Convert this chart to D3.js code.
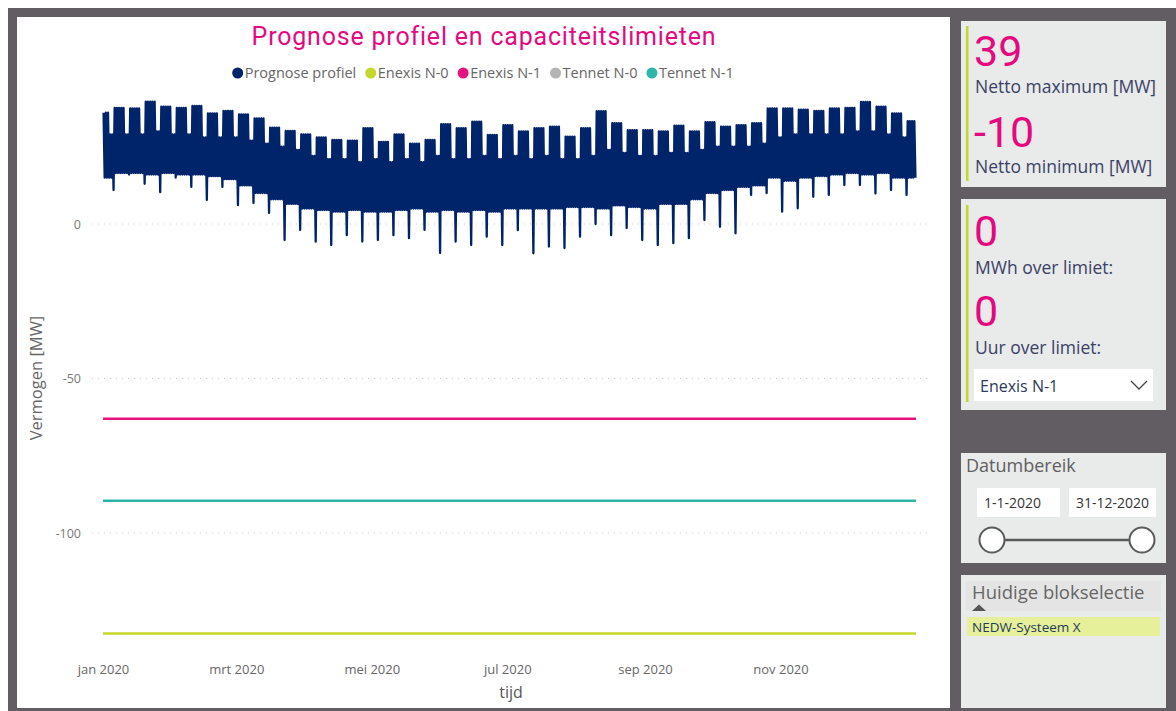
<!DOCTYPE html>
<html lang="nl">
<head>
<meta charset="utf-8">
<title>Prognose profiel en capaciteitslimieten</title>
<script src="https://cdn.jsdelivr.net/npm/d3@7"></script>
<style>
  html, body { margin: 0; padding: 0; background: #fff; }
  svg { display: block; }
  text { font-family: "Open Sans", "Noto Sans", sans-serif; }
</style>
</head>
<body>
<div id="dashboard"></div>
<script>
// Prognose profiel, read per week off the picture (weeks start on monday 30-12-2019)
// weekday peak, weekday floor, weekend peak, lowest weekend dip  [MW]
const weekdayTop = [36, 37.6, 37.4, 39.6, 38, 37.6, 38.2, 35.8, 36.6, 35.5, 34.2, 31.2, 30.1,
  29, 28, 27.2, 27, 31, 26.6, 29, 26, 27.2, 32.3, 31, 33.1, 28.8, 32, 30, 31, 31.5, 28.3, 31,
  36.5, 32.6, 30.4, 30.4, 30, 31.8, 30, 33, 31.5, 32, 32.6, 37.4, 37.4, 37, 36.6, 37.4, 37.6,
  39.5, 38, 35.8, 33.3];
const weekdayFloor = [15, 16.5, 16.5, 16, 16.5, 16, 16, 15.5, 14.5, 12.5, 10, 8, 6.5,
  5, 4.5, 4, 4.5, 4, 4, 4.5, 5, 4, 4.5, 4, 4.5, 4, 5, 5, 5, 5, 5.5, 5.5,
  5, 6, 5.5, 5, 6.5, 6.5, 8, 10, 11, 12, 12.5, 15, 14, 15, 15.5, 16, 16.5,
  16, 16.5, 15, 15];
const weekendTop = [29, 29, 29, 30, 29, 29, 28, 28, 28, 27, 26, 25, 24,
  22, 21, 21, 20, 21, 20, 21, 20, 22, 21, 21, 22, 21, 22, 21, 22, 21, 21, 22,
  24, 23, 22, 22, 23, 23, 24, 25, 25, 25, 26, 28, 29, 29, 29, 29, 30,
  30, 29, 28, 28];
const weekendMin = [11, 16, 13, 10.3, 15, 12, 7.8, 12, 6.1, 6.8, 3.6, -5.2, -1.9,
  -5.7, -6.8, -3.6, -5.7, -5.2, -3.6, -4.6, -1.9, -9.4, -5.7, -6.8, -4.1, -6.8, -2, -9.5, -7.3, -7.8, -4.1, 0,
  -3.6, -1.3, -5.2, -6.8, -6.2, -4.6, 1.3, -0.9, -3, 9.4, 10, 4, 5.1, 8.8, 9.4, 12.6, 12.6,
  9.9, 11, 9.4, 14];

// capacity limits [MW]
const limitNames = ["Enexis N-0", "Enexis N-1", "Tennet N-0", "Tennet N-1"];
const limitValues = [-132.5, -63, null, -89.6];

const legendLabels = ["Prognose profiel", "Enexis N-0", "Enexis N-1", "Tennet N-0", "Tennet N-1"];
const legendColours = ["#002469", "#c3d82a", "#e6137e", "#b3b3b3", "#2cb5a8"];
const yTicks = [0, -50, -100];
const xTickLabels = ["jan 2020", "mrt 2020", "mei 2020", "jul 2020", "sep 2020", "nov 2020"];

const cardValues = ["39", "-10", "0", "0"];
const cardLabels = ["Netto maximum [MW]", "Netto minimum [MW]", "MWh over limiet:", "Uur over limiet:"];
const dateRange = ["1-1-2020", "31-12-2020"];
const selectedLimit = "Enexis N-1";
const blockSelection = ["NEDW-Systeem X"];

(function () {
  const W = 1176;
  const H = 711;
  const PINK = "#e5097f";
  const NAVY = "#002469";
  const LIME = "#c3d82a";
  const PANEL = "#e9eaea";
  const LABEL = "#3a4166";

  const svg = d3
    .select("#dashboard")
    .append("svg")
    .attr("width", W)
    .attr("height", H)
    .attr("viewBox", `0 0 ${W} ${H}`);

  // frame
  svg.append("rect").attr("x", 8).attr("y", 8).attr("width", W - 8).attr("height", H - 8).attr("fill", "#625d62");
  svg.append("rect").attr("x", 17).attr("y", 17).attr("width", 933).attr("height", 691).attr("fill", "#fff");

  const x = d3
    .scaleTime()
    .domain([new Date(2020, 0, 1), new Date(2021, 0, 1)])
    .range([103, 916]);
  const y = d3.scaleLinear().domain([-100, 0]).range([533, 224]);

  function drawChart() {
    const g = svg.append("g");

    g.append("text")
      .attr("x", 484)
      .attr("y", 45)
      .attr("text-anchor", "middle")
      .style("font-family", "Roboto, sans-serif")
      .style("font-size", "25px")
      .style("letter-spacing", "0.8px")
      .attr("fill", PINK)
      .text("Prognose profiel en capaciteitslimieten");

    // gridlines
    g.selectAll(".grid")
      .data(yTicks)
      .enter()
      .append("line")
      .attr("class", "grid")
      .attr("x1", 92)
      .attr("x2", 930)
      .attr("y1", (d) => y(d))
      .attr("y2", (d) => y(d))
      .attr("stroke", "#c8c8c8")
      .attr("stroke-width", 1)
      .attr("stroke-dasharray", "1 5");

    const yAxis = d3
      .axisLeft(y)
      .tickValues(yTicks)
      .tickSize(0)
      .tickPadding(0)
      .tickFormat((d) => `${d}`);
    g.append("g")
      .attr("transform", "translate(81,0)")
      .call(yAxis)
      .call((a) => a.select(".domain").remove())
      .call((a) =>
        a.selectAll("text").attr("fill", "#777").style("font-size", "12.5px").style("font-family", "Open Sans, sans-serif")
      );

    const xTicks = d3.timeMonth.every(2).range(new Date(2020, 0, 1), new Date(2021, 0, 1));
    const xAxis = d3
      .axisBottom(x)
      .tickValues(xTicks)
      .tickSize(0)
      .tickPadding(0)
      .tickFormat((d, i) => xTickLabels[i]);
    g.append("g")
      .attr("transform", "translate(0,665)")
      .call(xAxis)
      .call((a) => a.select(".domain").remove())
      .call((a) =>
        a.selectAll("text").attr("fill", "#666").style("font-size", "13px").style("font-family", "Open Sans, sans-serif")
      );

    g.append("text")
      .attr("x", 511)
      .attr("y", 698)
      .attr("text-anchor", "middle")
      .attr("fill", "#555")
      .style("font-size", "16px")
      .text("tijd");

    g.append("text")
      .attr("transform", "translate(42,378) rotate(-90)")
      .attr("text-anchor", "middle")
      .attr("fill", "#666")
      .style("font-size", "16.5px")
      .text("Vermogen [MW]");

    // forecast profile: each day a peak and a dip, as the hourly line does
    const start = new Date(2019, 11, 30);
    const days = [];
    weekdayTop.forEach((top, k) => {
      for (let d = 0; d < 7; d++) {
        const date = d3.timeDay.offset(start, k * 7 + d);
        if (date < x.domain()[0] || date >= x.domain()[1]) continue;
        const hi = d < 5 ? top : weekendTop[k];
        const lo = d < 6 ? weekdayFloor[k] : weekendMin[k];
        days.push({ date, hi, lo });
      }
    });
    const points = [];
    days.forEach((d) => {
      const x0 = x(d.date);
      const w = x(d3.timeDay.offset(d.date, 1)) - x0;
      points.push([x0 + w * 0.25, y(d.hi)]);
      points.push([x0 + w * 0.75, y(d.lo)]);
    });

    g.append("path")
      .datum(points)
      .attr("fill", "none")
      .attr("stroke", NAVY)
      .attr("stroke-width", 2.3)
      .attr("stroke-linejoin", "round")
      .attr("d", d3.line());

    // limit lines
    const limitColour = d3.scaleOrdinal().domain(limitNames).range(legendColours.slice(1));
    const limits = limitNames
      .map((name, i) => ({ name, value: limitValues[i] }))
      .filter((d) => d.value !== null);
    g.selectAll(".limit")
      .data(limits)
      .enter()
      .append("line")
      .attr("class", "limit")
      .attr("x1", x.range()[0])
      .attr("x2", x.range()[1])
      .attr("y1", (d) => y(d.value))
      .attr("y2", (d) => y(d.value))
      .attr("stroke", (d) => limitColour(d.name))
      .attr("stroke-width", 2.5);

    drawLegend(g);
  }

  function drawLegend(g) {
    const legend = g.append("g").attr("transform", "translate(0,78)");
    const items = legend
      .selectAll("g")
      .data(legendLabels)
      .enter()
      .append("g");
    items
      .append("circle")
      .attr("r", 5.5)
      .attr("cy", -5)
      .attr("fill", (d, i) => legendColours[i]);
    items
      .append("text")
      .attr("x", 7)
      .attr("fill", "#666")
      .style("font-size", "14.5px")
      .text((d) => d);

    let cursor = 0;
    const offsets = [];
    items.each(function () {
      offsets.push(cursor);
      cursor += 7 + d3.select(this).select("text").node().getComputedTextLength() + 9 + 5.5;
    });
    const total = cursor - 9 - 5.5 + 5.5;
    const left = 483 - total / 2 + 5.5;
    items.attr("transform", (d, i) => `translate(${left + offsets[i]},0)`);
  }

  function panel(px, py, pw, ph) {
    svg.append("rect").attr("x", px).attr("y", py).attr("width", pw).attr("height", ph).attr("fill", PANEL);
  }

  function bigNumber(txt, px, py) {
    svg.append("text")
      .attr("x", px)
      .attr("y", py)
      .attr("fill", PINK)
      .style("font-family", "Roboto, sans-serif")
      .style("font-size", "43px")
      .text(txt);
  }

  function label(txt, px, py, size, colour) {
    return svg
      .append("text")
      .attr("x", px)
      .attr("y", py)
      .attr("fill", colour || LABEL)
      .style("font-size", (size || 17.5) + "px")
      .text(txt);
  }

  function drawCards() {
    // max / min card
    panel(961, 21, 205, 166);
    svg.append("rect").attr("x", 966).attr("y", 26).attr("width", 2.5).attr("height", 155).attr("fill", LIME);
    bigNumber(cardValues[0], 974, 66);
    label(cardLabels[0], 975, 93);
    bigNumber(cardValues[1], 974, 147);
    label(cardLabels[1], 975, 173);

    // over limit card
    panel(961, 199, 205, 211);
    svg.append("rect").attr("x", 966).attr("y", 205).attr("width", 2.5).attr("height", 197).attr("fill", LIME);
    bigNumber(cardValues[2], 974, 246);
    label(cardLabels[2], 975, 274);
    bigNumber(cardValues[3], 974, 326);
    label(cardLabels[3], 975, 354);
    svg.append("rect").attr("x", 974).attr("y", 369).attr("width", 179).attr("height", 32).attr("fill", "#fff");
    label(selectedLimit, 980, 392, 16, "#2d3a5c");
    svg.append("polyline")
      .attr("points", "1131,381 1139,389 1147,381")
      .attr("fill", "none")
      .attr("stroke", "#444")
      .attr("stroke-width", 1.3);

    // date range slicer
    panel(961, 453, 205, 110);
    label("Datumbereik", 966, 472, 18, "#5f5f5f");
    const boxes = [
      { x: 977, w: 83 },
      { x: 1069, w: 87 },
    ];
    boxes.forEach((b, i) => {
      svg.append("rect").attr("x", b.x).attr("y", 488).attr("width", b.w).attr("height", 29).attr("fill", "#fff");
      label(dateRange[i], b.x + 7, 508, 14, "#333");
    });
    svg.append("line")
      .attr("x1", 992)
      .attr("x2", 1142)
      .attr("y1", 540)
      .attr("y2", 540)
      .attr("stroke", "#5a5a5a")
      .attr("stroke-width", 2.5);
    svg.selectAll(".knob")
      .data([992, 1142])
      .enter()
      .append("circle")
      .attr("class", "knob")
      .attr("cx", (d) => d)
      .attr("cy", 540)
      .attr("r", 12.5)
      .attr("fill", "#fff")
      .attr("stroke", "#5a5a5a")
      .attr("stroke-width", 2);

    // block selection table
    panel(961, 575, 205, 133);
    svg.append("rect").attr("x", 966).attr("y", 581).attr("width", 195).attr("height", 30).attr("fill", "#e4e4e4");
    label("Huidige blokselectie", 972, 599, 18.5, "#666");
    svg.append("path").attr("d", "M972,611 L979,604.5 L986,611 Z").attr("fill", "#555");
    blockSelection.forEach((name, i) => {
      svg.append("rect")
        .attr("x", 967)
        .attr("y", 617 + i * 20)
        .attr("width", 193)
        .attr("height", 19)
        .attr("fill", "#e6f09b");
      label(name, 972, 632 + i * 20, 13.5, "#1f3b5a");
    });
  }

  drawChart();
  drawCards();
})();
</script>
</body>
</html>
